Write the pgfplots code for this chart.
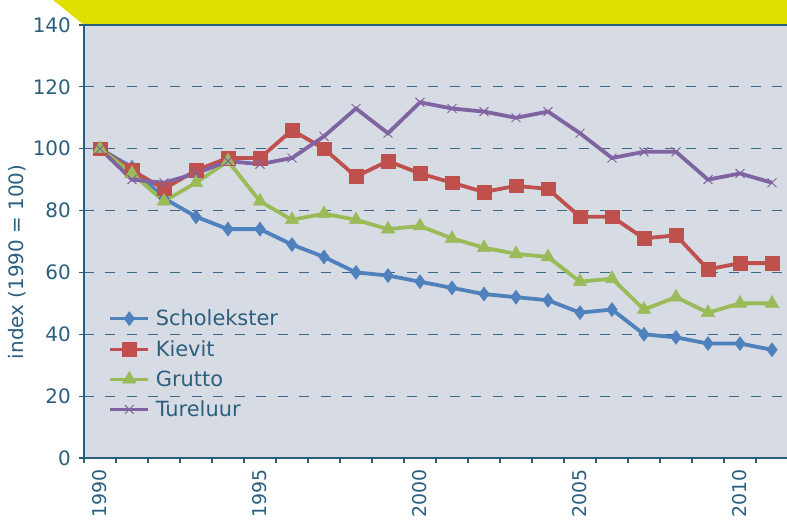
\documentclass[border=0pt]{standalone}
\usepackage{pgfplots}
\pgfplotsset{compat=1.18}
\usepackage{fontspec}
\setmainfont{DejaVu Sans}

\definecolor{CBlue}{HTML}{4F81BD}
\definecolor{CRed}{HTML}{C0504D}
\definecolor{CGreen}{HTML}{9BBB59}
\definecolor{CPurple}{HTML}{8064A2}
\definecolor{CBg}{HTML}{D6DBE4}
\definecolor{CText}{HTML}{2B5F7E}
\definecolor{CGrid}{HTML}{3A6A88}
\definecolor{CYellow}{HTML}{DFDF00}

\begin{document}
\begin{tikzpicture}
\useasboundingbox (-84bp,-65bp) rectangle (703bp,458bp);
\fill[CYellow] (-31bp,458bp) -- (703bp,458bp) -- (703bp,433bp) -- (0bp,433bp) -- cycle;
\begin{axis}[
  at={(0,0)}, anchor=south west,
  scale only axis, width=704bp, height=433bp,
  axis background/.style={fill=CBg},
  xmin=1989.5, xmax=2011.5, ymin=0, ymax=140,
  ytick={0,20,...,140},
  ymajorgrids,
  major grid style={CGrid, dash pattern=on 10bp off 11.5bp, line width=1.1bp},
  axis line style={CText, line width=2bp},
  tick style={CText, line width=1.2bp},
  tick align=outside, major tick length=5bp,
  tick pos=left,
  xtick={1989.5,1990.5,...,2011.5},
  xticklabels={},
  extra x ticks={1990,1995,2000,2005,2010},
  extra x tick labels={1990,1995,2000,2005,2010},
  extra x tick style={major tick length=0pt, grid=none,
    tick label style={rotate=90, anchor=east, inner sep=0pt, xshift=-11bp}},
  /pgf/number format/assume math mode=true,
  /pgf/number format/1000 sep={},
  tick label style={font=\fontsize{19}{19}\selectfont, text=CText},
  yticklabel style={inner sep=0pt, xshift=-8bp, font=\fontsize{20}{20}\selectfont},
  ylabel={index (1990 = 100)},
  ylabel style={font=\fontsize{20}{20}\selectfont, text=CText, at={(axis description cs:-0.095,0.453)}, anchor=center},
  legend style={at={(axis description cs:0.035,0.347)}, anchor=north west, draw=none, fill=none,
    font=\fontsize{21}{21}\selectfont, text=CText, row sep=9bp, column sep=4bp, inner sep=0pt},
  legend cell align=left,
  legend image code/.code={\draw[mark repeat=2, mark phase=2, line width=3bp] plot coordinates {(0bp,0bp) (19bp,0bp) (38bp,0bp)};},
  every axis plot/.append style={line width=3.8bp},
]
\addplot[CBlue, mark=diamond*, mark size=7bp, mark options={solid, line width=0.5bp}] coordinates {
(1990,100) (1991,94) (1992,84) (1993,78) (1994,74) (1995,74) (1996,69) (1997,65) (1998,60) (1999,59) (2000,57)
(2001,55) (2002,53) (2003,52) (2004,51) (2005,47) (2006,48) (2007,40) (2008,39) (2009,37) (2010,37) (2011,35)};
\addlegendentry{Scholekster}
\addplot[CRed, mark=square*, mark size=6.8bp, mark options={solid, line width=0.5bp}] coordinates {
(1990,100) (1991,93) (1992,87) (1993,93) (1994,97) (1995,97) (1996,106) (1997,100) (1998,91) (1999,96) (2000,92)
(2001,89) (2002,86) (2003,88) (2004,87) (2005,78) (2006,78) (2007,71) (2008,72) (2009,61) (2010,63) (2011,63)};
\addlegendentry{Kievit}
\addplot[CGreen, mark=triangle*, mark size=7.8bp, mark options={solid, line width=0.5bp}] coordinates {
(1990,100) (1991,92) (1992,83) (1993,89) (1994,96) (1995,83) (1996,77) (1997,79) (1998,77) (1999,74) (2000,75)
(2001,71) (2002,68) (2003,66) (2004,65) (2005,57) (2006,58) (2007,48) (2008,52) (2009,47) (2010,50) (2011,50)};
\addlegendentry{Grutto}
\addplot[CPurple, mark=x, mark size=6.3bp, mark options={solid, line width=1bp}] coordinates {
(1990,100) (1991,90) (1992,89) (1993,92) (1994,96) (1995,95) (1996,97) (1997,104) (1998,113) (1999,105) (2000,115)
(2001,113) (2002,112) (2003,110) (2004,112) (2005,105) (2006,97) (2007,99) (2008,99) (2009,90) (2010,92) (2011,89)};
\addlegendentry{Tureluur}
\end{axis}
\end{tikzpicture}
\end{document}
